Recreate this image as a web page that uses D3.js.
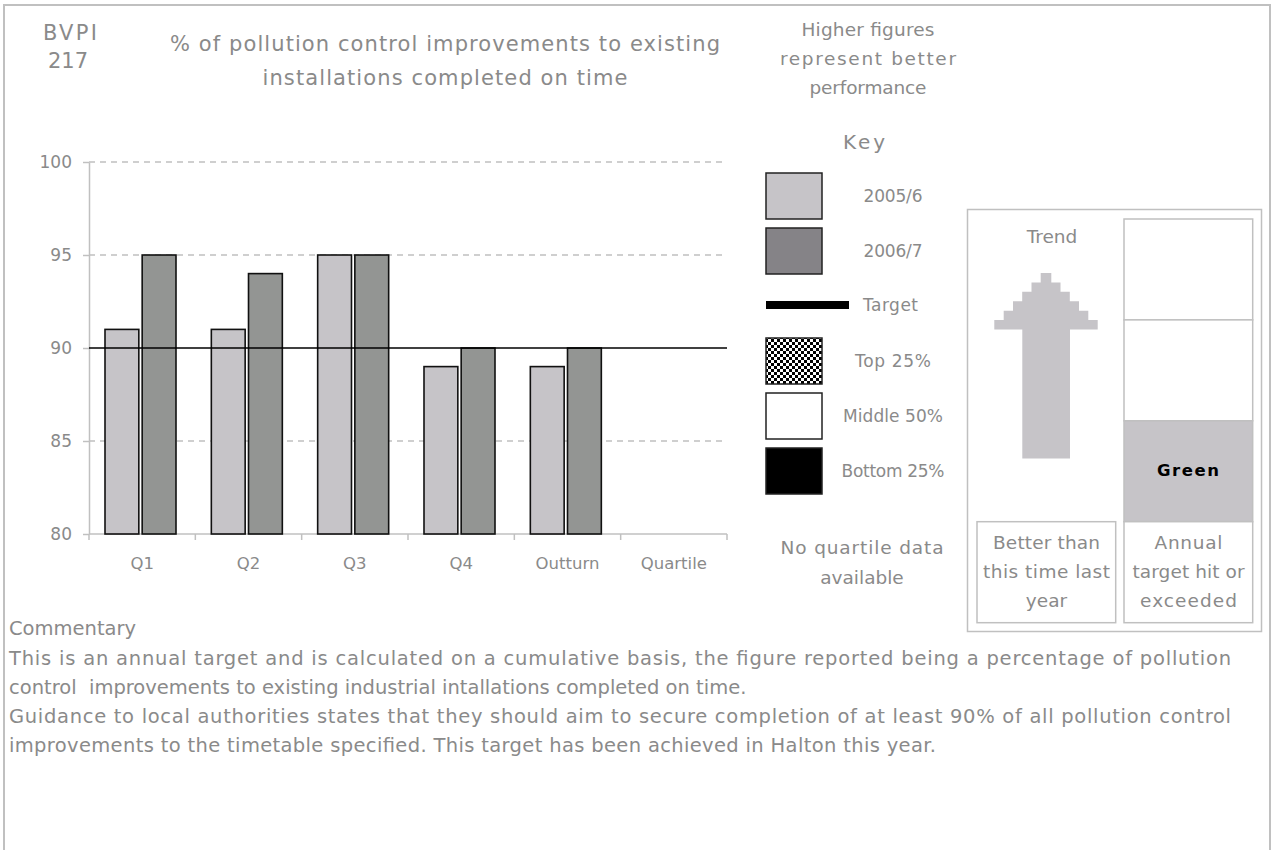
<!DOCTYPE html>
<html>
<head>
<meta charset="utf-8">
<script src="https://cdn.jsdelivr.net/npm/d3@7"></script>
<style>
  body { margin: 0; background: #fff; }
  svg { display: block; font-family: "DejaVu Sans", Verdana, sans-serif; }
  text { white-space: pre; }
</style>
</head>
<body>
<div id="chart"></div>
<script>
const categories = ["Q1", "Q2", "Q3", "Q4", "Outturn", "Quartile"];
const seriesNames = ["2005/6", "2006/7"];
const values2005 = [91, 91, 95, 89, 89, null];
const values2006 = [95, 94, 95, 90, 90, null];
const targetValue = 90;
const yTicks = [80, 85, 90, 95, 100];
const gridTicks = [85, 95, 100];

const keyLabels = ["2005/6", "2006/7", "Target", "Top 25%", "Middle 50%", "Bottom 25%"];
const higherLines = ["Higher figures", "represent better", "performance"];
const titleLines = ["% of pollution control improvements to existing", "installations completed on time"];
const codeLines = ["BVPI", "217"];
const quartileNote = ["No quartile data", "available"];
const trendText = ["Better than", "this time last", "year"];
const ragText = ["Annual", "target hit or", "exceeded"];
const ragStates = ["Red", "Amber", "Green"];
const ragCurrent = "Green";
const commentaryLines = [
  "This is an annual target and is calculated on a cumulative basis, the figure reported being a percentage of pollution",
  "control  improvements to existing industrial intallations completed on time.",
  "Guidance to local authorities states that they should aim to secure completion of at least 90% of all pollution control",
  "improvements to the timetable specified. This target has been achieved in Halton this year."
];

const width = 1277;
const height = 850;
const grey = "#8a8a8a";
const light = "#c0c0c0";

const svg = d3.select("#chart")
  .append("svg")
  .attr("width", width)
  .attr("height", height);

// texte, largeur optionnelle pour coller a la police d'origine
function label(g, x, y, str, opts = {}) {
  const t = g.append("text")
    .attr("x", x)
    .attr("y", y)
    .attr("dy", "0.35em")
    .attr("text-anchor", opts.anchor || "middle")
    .attr("fill", opts.fill || grey)
    .style("font-size", (opts.size || 17) + "px")
    .style("font-weight", opts.weight || "normal")
    .text(str);
  if (opts.w) t.attr("textLength", opts.w).attr("lengthAdjust", "spacing");
  return t;
}

// Cadre
svg.append("rect")
  .attr("x", 4).attr("y", 5)
  .attr("width", 1266).attr("height", 900)
  .attr("fill", "none")
  .attr("stroke", light)
  .attr("stroke-width", 2);

// Titres
label(svg, 70, 33, codeLines[0], { size: 21, w: 54 });
label(svg, 68, 61, codeLines[1], { size: 21 });
label(svg, 445, 44, titleLines[0], { size: 21, w: 550 });
label(svg, 445, 78, titleLines[1], { size: 21, w: 365 });

const higherW = [133, 176, 117];
higherLines.forEach((s, i) => label(svg, 868, 30 + i * 29, s, { size: 18.5, w: higherW[i] }));

// Graphique
const x = d3.scaleBand().domain(categories).range([89, 727]);
const x1 = d3.scaleBand().domain(seriesNames).range([16, 87]).paddingInner(0.09);
const y = d3.scaleLinear().domain([80, 100]).range([534, 162]);

const data = categories.map((c, i) => ({ cat: c, values: [values2005[i], values2006[i]] }));
const fills = { "2005/6": "#c6c4c8", "2006/7": "#939593" };

// grille
svg.append("g")
  .selectAll("line")
  .data(gridTicks)
  .join("line")
  .attr("x1", 89).attr("x2", 727)
  .attr("y1", d => y(d)).attr("y2", d => y(d))
  .attr("stroke", light)
  .attr("stroke-width", 1.5)
  .attr("stroke-dasharray", "6 5");

// axe Y
const yAxis = svg.append("g")
  .attr("transform", "translate(89,0)")
  .call(d3.axisLeft(y).tickValues(yTicks).tickSize(6).tickSizeOuter(0).tickPadding(11));
yAxis.select(".domain").attr("stroke", light).attr("stroke-width", 1.5);
yAxis.selectAll(".tick line").attr("stroke", light).attr("stroke-width", 1.5);
yAxis.selectAll(".tick text")
  .attr("fill", grey)
  .style("font-size", "17px")
  .style("font-family", "'DejaVu Sans', Verdana, sans-serif");

// axe X
const xAxis = svg.append("g");
xAxis.append("line")
  .attr("x1", x.range()[0]).attr("x2", x.range()[1])
  .attr("y1", y(80)).attr("y2", y(80))
  .attr("stroke", light).attr("stroke-width", 1.5);
const bounds = categories.map(c => x(c)).concat([x.range()[1]]);
xAxis.selectAll(".b")
  .data(bounds)
  .join("line")
  .attr("x1", d => d).attr("x2", d => d)
  .attr("y1", y(80)).attr("y2", y(80) + 6)
  .attr("stroke", light).attr("stroke-width", 1.5);
categories.forEach(c => label(xAxis, x(c) + x.bandwidth() / 2, 563, c, { size: 16.5 }));

// barres
svg.append("g")
  .selectAll("g")
  .data(data)
  .join("g")
  .attr("transform", d => `translate(${x(d.cat)},0)`)
  .selectAll("rect")
  .data(d => d.values.map((v, j) => ({ key: seriesNames[j], v })).filter(e => e.v != null))
  .join("rect")
  .attr("x", d => x1(d.key))
  .attr("width", x1.bandwidth())
  .attr("y", d => y(d.v))
  .attr("height", d => y(80) - y(d.v))
  .attr("fill", d => fills[d.key])
  .attr("stroke", "#111")
  .attr("stroke-width", 1.6);

// cible
svg.append("line")
  .attr("x1", x.range()[0]).attr("x2", x.range()[1])
  .attr("y1", y(targetValue)).attr("y2", y(targetValue))
  .attr("stroke", "#000")
  .attr("stroke-width", 1.6);

// Légende
const defs = svg.append("defs");
const pat = defs.append("pattern")
  .attr("id", "checker")
  .attr("width", 6).attr("height", 6)
  .attr("patternUnits", "userSpaceOnUse");
pat.append("rect").attr("width", 6).attr("height", 6).attr("fill", "#fff");
pat.append("rect").attr("width", 3).attr("height", 3).attr("fill", "#000");
pat.append("rect").attr("x", 3).attr("y", 3).attr("width", 3).attr("height", 3).attr("fill", "#000");

label(svg, 864, 142, "Key", { size: 20, w: 42 });

const key = svg.append("g");
const keyY = [196, 251, 305, 361, 416, 471];
const keyFill = ["#c6c4c8", "#858387", null, "url(#checker)", "#fff", "#000"];
const keyW = [59, 59, 55, 76, 100, 103];
keyLabels.forEach((k, i) => {
  if (k === "Target") {
    key.append("rect")
      .attr("x", 766).attr("y", keyY[i] - 4)
      .attr("width", 83).attr("height", 8)
      .attr("fill", "#000");
    label(key, 863, keyY[i], k, { anchor: "start", size: 17, w: keyW[i] });
  } else {
    key.append("rect")
      .attr("x", 766).attr("y", keyY[i] - 23)
      .attr("width", 56).attr("height", 46)
      .attr("fill", keyFill[i])
      .attr("stroke", "#222")
      .attr("stroke-width", 1.5);
    label(key, 893, keyY[i], k, { size: 17, w: keyW[i] });
  }
});

label(svg, 862, 548, quartileNote[0], { size: 18.5, w: 163 });
label(svg, 862, 578, quartileNote[1], { size: 18.5 });

// Panneau tendance / RAG
const panel = svg.append("g");
panel.append("rect")
  .attr("x", 967.5).attr("y", 209.5)
  .attr("width", 294).attr("height", 422)
  .attr("fill", "none").attr("stroke", light).attr("stroke-width", 1.5);

label(panel, 1052, 237, "Trend", { size: 18.5 });

// fleche en escalier
const tipY = 273, baseY = 329.5, stepH = (baseY - tipY) / 6, cx = 1046;
const halfW = [5.3, 14.5, 23.8, 33, 42.3, 51.7];
let pts = [];
halfW.forEach((h, i) => {
  pts.push([cx - h, tipY + i * stepH], [cx - h, tipY + (i + 1) * stepH]);
});
pts.push([1022.3, baseY], [1022.3, 458.5], [1070, 458.5], [1070, baseY]);
halfW.slice().reverse().forEach((h, i) => {
  pts.push([cx + h, tipY + (6 - i) * stepH], [cx + h, tipY + (5 - i) * stepH]);
});
panel.append("path")
  .attr("d", d3.line()(pts) + "Z")
  .attr("fill", "#c6c4c8");

// colonne RAG
const ragY = d3.scaleBand().domain(ragStates).range([219, 521.7]);
panel.selectAll(".rag")
  .data(ragStates)
  .join("rect")
  .attr("x", 1124).attr("y", d => ragY(d))
  .attr("width", 128.7).attr("height", ragY.bandwidth())
  .attr("fill", d => d === ragCurrent ? "#c6c4c8" : "#fff")
  .attr("stroke", light).attr("stroke-width", 1.5);
label(panel, 1188, ragY(ragCurrent) + ragY.bandwidth() / 2 - 1, ragCurrent,
  { size: 16.5, weight: "bold", fill: "#000", w: 62 });

// boites de texte
panel.append("rect")
  .attr("x", 977).attr("y", 521.7).attr("width", 138.7).attr("height", 101)
  .attr("fill", "#fff").attr("stroke", light).attr("stroke-width", 1.5);
panel.append("rect")
  .attr("x", 1124).attr("y", 521.7).attr("width", 128.7).attr("height", 101)
  .attr("fill", "#fff").attr("stroke", light).attr("stroke-width", 1.5);
const trendW = [107, 127, null];
const ragW = [68, 112, 97];
trendText.forEach((s, i) => label(panel, 1046.5, 543 + i * 28.7, s, { size: 18.5, w: trendW[i] }));
ragText.forEach((s, i) => label(panel, 1188.5, 543 + i * 28.7, s, { size: 18.5, w: ragW[i] }));

// Commentaire
const comm = svg.append("g");
label(comm, 9, 628, "Commentary", { anchor: "start", size: 19.5 });
const commW = [1222, null, 1222, 927];
commentaryLines.forEach((s, i) => label(comm, 9, 658 + i * 29, s, { anchor: "start", size: 19.5, w: commW[i] }));
</script>
</body>
</html>
